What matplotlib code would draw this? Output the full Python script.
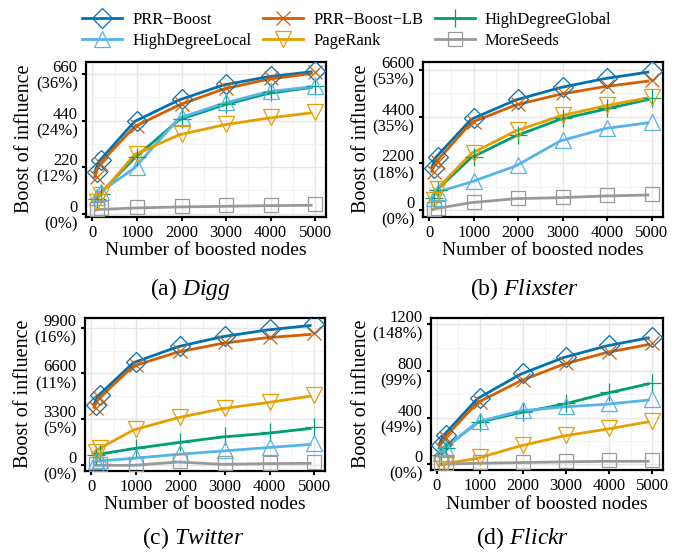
import matplotlib
matplotlib.use('Agg')
import matplotlib.pyplot as plt
from matplotlib.lines import Line2D
from matplotlib.ticker import AutoMinorLocator
import matplotlib.transforms as mtransforms

plt.rcParams['font.family'] = ['Liberation Serif', 'DejaVu Serif']
plt.rcParams['mathtext.fontset'] = 'custom'
plt.rcParams['mathtext.it'] = 'Liberation Serif:italic'
plt.rcParams['mathtext.rm'] = 'Liberation Serif'

# 数据
x_nodes = [100, 200, 1000, 2000, 3000, 4000, 5000]
methods = ['PRR\u2212Boost', 'PRR\u2212Boost\u2212LB', 'HighDegreeGlobal',
           'HighDegreeLocal', 'PageRank', 'MoreSeeds']

digg_prr = [196, 251, 440, 542, 613, 652, 676]
digg_lb = [173, 236, 416, 518, 594, 640, 668]
digg_hdg = [71, 94, 267, 448, 518, 573, 602]
digg_hdl = [79, 102, 220, 456, 526, 581, 605]
digg_pr = [55, 86, 283, 377, 424, 456, 482]
digg_ms = [20, 24, 31, 36, 39, 42, 44]

flixster_prr = [1964, 2514, 4321, 5232, 5814, 6238, 6552]
flixster_lb = [1807, 2278, 4164, 4997, 5500, 5861, 6128]
flixster_hdg = [550, 943, 2514, 3536, 4321, 4793, 5264]
flixster_hdl = [550, 864, 1367, 2121, 3300, 3881, 4164]
flixster_pr = [471, 974, 2703, 3771, 4478, 4950, 5343]
flixster_ms = [47, 110, 393, 581, 628, 707, 754]

twitter_prr = [4325, 5046, 7449, 8603, 9324, 9804, 10140]
twitter_lb = [4133, 4806, 7209, 8218, 8843, 9252, 9492]
twitter_hdg = [721, 841, 1250, 1682, 2091, 2355, 2715]
twitter_hdl = [288, 360, 553, 841, 1081, 1322, 1562]
twitter_pr = [961, 1201, 2595, 3484, 4133, 4566, 5046]
twitter_ms = [48, 48, 48, 288, 120, 168, 192]

flickr_prr = [166, 251, 571, 780, 923, 1023, 1094]
flickr_lb = [137, 223, 537, 723, 866, 966, 1037]
flickr_hdg = [80, 137, 366, 451, 523, 617, 700]
flickr_hdl = [94, 131, 371, 466, 500, 523, 560]
flickr_pr = [0, 9, 60, 166, 251, 309, 374]
flickr_ms = [9, 9, 17, 23, 29, 34, 34]

digg_ticks = [0, 220, 440, 660]
digg_pct = ['0%', '12%', '24%', '36%']
flixster_ticks = [0, 2200, 4400, 6600]
flixster_pct = ['0%', '18%', '35%', '53%']
twitter_ticks = [0, 3300, 6600, 9900]
twitter_pct = ['0%', '5%', '11%', '16%']
flickr_ticks = [0, 400, 800, 1200]
flickr_pct = ['0%', '49%', '99%', '148%']

colors = ['#0072B2', '#D55E00', '#009E73', '#56B4E9', '#E69F00', '#999999']
markers = ['D', 'x', '+', '^', 'v', 's']
msizes = [10, 10, 13, 11, 11, 9.5]

panels = [
    ('(a) ', 'Digg', [digg_prr, digg_lb, digg_hdg, digg_hdl, digg_pr, digg_ms],
     digg_ticks, digg_pct, (-14, 717), [0.1252, 0.6099, 0.3493, 0.2784], (190, 289)),
    ('(b) ', 'Flixster', [flixster_prr, flixster_lb, flixster_hdg, flixster_hdl, flixster_pr, flixster_ms],
     flixster_ticks, flixster_pct, (-315, 6990), [0.6153, 0.6096, 0.3493, 0.2793], (525, 289)),
    ('(c) ', 'Twitter', [twitter_prr, twitter_lb, twitter_hdg, twitter_hdl, twitter_pr, twitter_ms],
     twitter_ticks, twitter_pct, (-411, 10621), [0.1237, 0.1519, 0.3493, 0.2757], (193, 538)),
    ('(d) ', 'Flickr', [flickr_prr, flickr_lb, flickr_hdg, flickr_hdl, flickr_pr, flickr_ms],
     flickr_ticks, flickr_pct, (-49, 1251), [0.6269, 0.1532, 0.3377, 0.2733], (523, 538)),
]

fig = plt.figure(figsize=(6.87, 5.55), dpi=100)
# 线条相对标记稍微错位（原图如此）
shift = mtransforms.ScaledTranslation(-2.5 / 100, -1 / 100, fig.dpi_scale_trans)

for prefix, name, series, ticks, pct, ylim, rect, cap in panels:
    ax = fig.add_axes(rect)
    for i, ys in enumerate(series):
        ax.plot(x_nodes, ys, color=colors[i], lw=2.0, solid_capstyle='butt',
                transform=ax.transData + shift, zorder=3)
        ax.plot(x_nodes, ys, ls='none', marker=markers[i], ms=msizes[i],
                mfc='none', mec=colors[i], mew=0.9, zorder=4)
    ax.set_xlim(-145, 5245)
    ax.set_ylim(*ylim)
    ax.set_xticks([0, 1000, 2000, 3000, 4000, 5000])
    ax.set_yticks(ticks)
    ax.set_yticklabels(['%d\n(%s)' % (t, p) for t, p in zip(ticks, pct)],
                       multialignment='right', linespacing=1.05)
    ax.xaxis.set_minor_locator(AutoMinorLocator(2))
    ax.yaxis.set_minor_locator(AutoMinorLocator(2))
    ax.grid(True, which='major', color='#E6E6E6', lw=1.0, zorder=0)
    ax.grid(True, which='minor', color='#F3F3F3', lw=0.8, zorder=0)
    ax.set_axisbelow(True)
    for sp in ax.spines.values():
        sp.set_linewidth(1.6)
    ax.tick_params(which='major', length=3, width=1.5, labelsize=12, pad=3)
    ax.tick_params(which='minor', length=0)
    ax.set_xlabel('Number of boosted nodes', fontsize=14, labelpad=1)
    ax.set_ylabel('Boost of influence', fontsize=14.5, labelpad=1)
    fig.text(cap[0] / 687, 1 - cap[1] / 555, prefix + r'$\mathit{' + name + '}$',
             fontsize=17, ha='center', va='center')

handles = [Line2D([], [], color=colors[i], lw=2.0, marker=markers[i], ms=msizes[i],
                  mfc='none', mec=colors[i], mew=0.9) for i in range(6)]
order = [0, 3, 1, 4, 2, 5]
fig.legend([handles[i] for i in order], [methods[i] for i in order],
           loc='upper center', bbox_to_anchor=(0.505, 1.005), ncol=3, frameon=False,
           fontsize=12, handlelength=2.4, handletextpad=0.6, columnspacing=0.7,
           labelspacing=0.3)

plt.savefig('out.png', dpi=100)
